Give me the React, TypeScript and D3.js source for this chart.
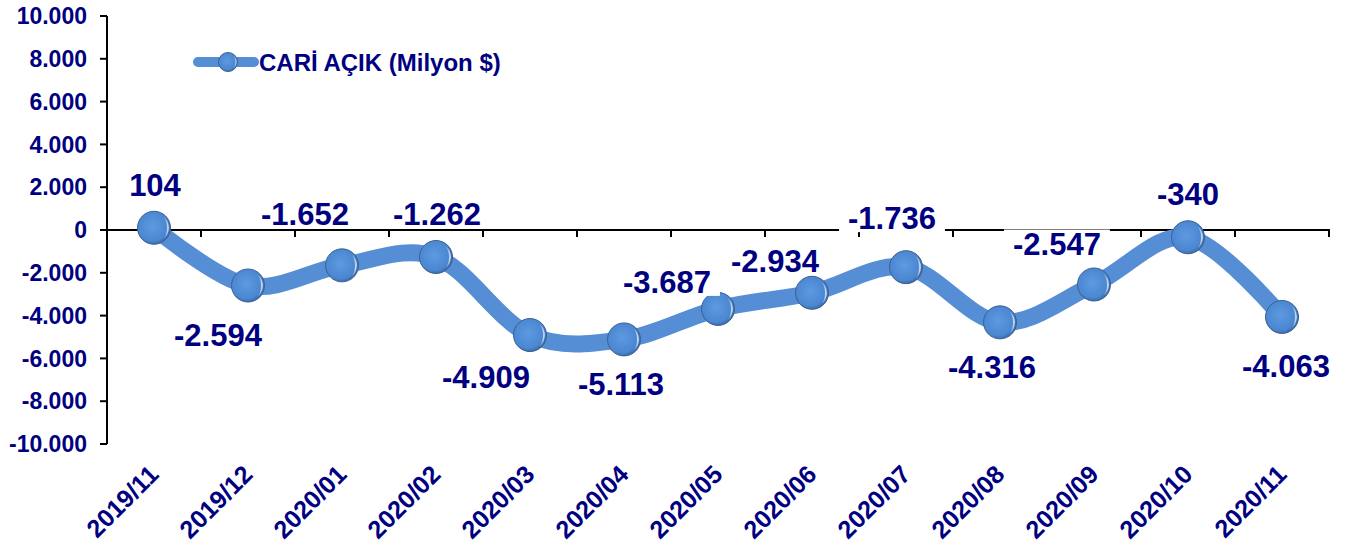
import React from "react";
import * as d3 from "d3";

const categories = [
  "2019/11", "2019/12", "2020/01", "2020/02", "2020/03", "2020/04", "2020/05",
  "2020/06", "2020/07", "2020/08", "2020/09", "2020/10", "2020/11",
];
const values = [104, -2594, -1652, -1262, -4909, -5113, -3687, -2934, -1736, -4316, -2547, -340, -4063];
const valueLabels = ["104", "-2.594", "-1.652", "-1.262", "-4.909", "-5.113", "-3.687", "-2.934", "-1.736", "-4.316", "-2.547", "-340", "-4.063"];
const yTicks = [10000, 8000, 6000, 4000, 2000, 0, -2000, -4000, -6000, -8000, -10000];
const yTickLabels = ["10.000", "8.000", "6.000", "4.000", "2.000", "0", "-2.000", "-4.000", "-6.000", "-8.000", "-10.000"];
const seriesName = "CARİ AÇIK (Milyon $)";

// label placement offsets (px) relative to each point: [dx, dy of baseline]
const labelOffsets: [number, number][] = [
  [1, -32], [-30, 60], [-37, -40], [1, -32], [-44, 53], [-3, 56], [-51, -16],
  [-37, -21], [-14, -38], [-8, 56], [-37, -30], [0, -32], [4, 60],
];

const W = 1347;
const H = 546;
const NAVY = "#000080";
const LINE = "#558ed5";
const FONT = "'Liberation Sans', Arial, sans-serif";

function Marker({ x, y, r }: { x: number; y: number; r: number }) {
  return (
    <g>
      <circle cx={x} cy={y} r={r} fill="url(#sph)" stroke="#3d618f" strokeWidth={1} />
      <path
        d={`M ${x + r * 0.55} ${y - r * 0.72} A ${r * 0.92} ${r * 0.92} 0 0 1 ${x + r * 0.55} ${y + r * 0.72} A ${r * 1.2} ${r * 1.2} 0 0 0 ${x + r * 0.55} ${y - r * 0.72} Z`}
        fill="url(#hl)"
      />
    </g>
  );
}

export default function App() {
  const x = d3.scaleBand<string>().domain(categories).range([107, 1329]).padding(0);
  const y = d3.scaleLinear().domain([-10000, 10000]).range([444, 16]);
  const cx = (c: string) => (x(c) as number) + x.bandwidth() / 2;

  const pts: [number, number][] = categories.map((c, i) => [cx(c), y(values[i])]);
  const lineGen = d3.line<[number, number]>().curve(d3.curveCardinal.tension(0));
  const path = lineGen(pts) || "";

  const boundaries = d3.range(categories.length + 1).map((i) => 107 + i * x.bandwidth());

  const dataFs = 31;
  const charW = (s: string) =>
    s.split("").reduce((a, ch) => a + (ch === "-" ? 0.333 : ch === "." ? 0.278 : 0.556), 0) * dataFs;

  return (
    <svg width={W} height={H} style={{ display: "block", position: "absolute", left: 0, top: 0 }} fontFamily={FONT}>
      <defs>
        <radialGradient id="sph" cx="0.45" cy="0.45" r="0.6">
          <stop offset="0%" stopColor="#5e9ae0" />
          <stop offset="75%" stopColor="#4b87d2" />
          <stop offset="100%" stopColor="#335f98" />
        </radialGradient>
        <linearGradient id="hl" x1="0" y1="0" x2="1" y2="0">
          <stop offset="0%" stopColor="#ffffff" stopOpacity={0} />
          <stop offset="100%" stopColor="#e8f4ff" stopOpacity={0.9} />
        </linearGradient>
      </defs>
      <rect width={W} height={H} fill="#fff" />

      {/* y axis */}
      <line x1={107} x2={107} y1={y(10000)} y2={y(-10000)} stroke="#000" strokeWidth={2} />
      {yTicks.map((t, i) => (
        <g key={t}>
          <line x1={100} x2={107} y1={y(t)} y2={y(t)} stroke="#000" strokeWidth={2} />
          <text x={87} y={y(t)} dy="0.36em" textAnchor="end" fontSize={23} fontWeight="bold" fill={NAVY}>
            {yTickLabels[i]}
          </text>
        </g>
      ))}

      {/* x axis at zero */}
      <line x1={107} x2={1330} y1={y(0)} y2={y(0)} stroke="#000" strokeWidth={2} />
      {boundaries.map((b, i) => (
        <line key={i} x1={b} x2={b} y1={y(0)} y2={y(0) + 7} stroke="#000" strokeWidth={2} />
      ))}

      {/* x labels */}
      {categories.map((c) => (
        <text
          key={c}
          transform={`translate(${cx(c) + 6},${476}) rotate(-45)`}
          textAnchor="end"
          fontSize={25}
          fontWeight="bold"
          fill={NAVY}
        >
          {c}
        </text>
      ))}

      {/* series line */}
      <path d={path} fill="none" stroke={LINE} strokeWidth={17} strokeLinejoin="round" />
      {pts.map((p, i) => (
        <Marker key={i} x={p[0]} y={p[1]} r={16.5} />
      ))}

      {/* data labels */}
      {pts.map((p, i) => {
        const lx = p[0] + labelOffsets[i][0];
        const ly = p[1] + labelOffsets[i][1];
        const w = charW(valueLabels[i]);
        return (
          <g key={i}>
            <rect x={lx - w / 2 - 9} y={ly - 25} width={w + 18} height={28} fill="#fff" />
            <text x={lx} y={ly} textAnchor="middle" fontSize={dataFs} fontWeight="bold" fill={NAVY}>
              {valueLabels[i]}
            </text>
          </g>
        );
      })}

      {/* legend */}
      <line x1={198} x2={254} y1={62} y2={62} stroke={LINE} strokeWidth={10} strokeLinecap="round" />
      <Marker x={228} y={62} r={9.5} />
      <text x={259} y={71} fontSize={24} fontWeight="bold" fill={NAVY}>
        {seriesName}
      </text>
    </svg>
  );
}
